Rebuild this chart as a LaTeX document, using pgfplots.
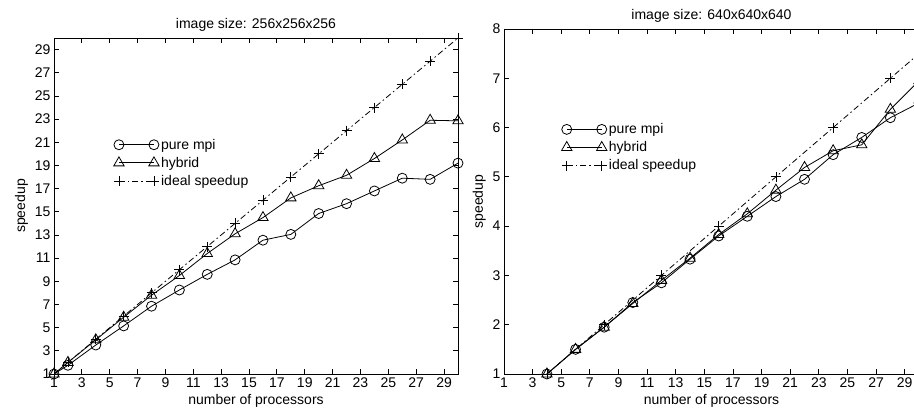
\documentclass[border=0pt]{standalone}
\usepackage{pgfplots}
\pgfplotsset{compat=1.18}
\usepackage{fontspec}
\setmainfont{Liberation Sans}

\pgfplotsset{
  gp/.style={
    scale only axis,
    anchor=south west,
    font=\fontsize{14bp}{16bp}\selectfont,
    /pgf/number format/assume math mode=true,
    xmin=1, xmax=30,
    xtick={1,3,...,29},
    tick align=inside,
    major tick length=5bp,
    axis line style={line width=0.8pt},
    every tick/.style={black, line width=0.8pt},
    xlabel={number of processors},
    ylabel={speedup},
    title style={yshift=-3bp},
    legend style={draw=none, fill=none, anchor=north west,
      font=\fontsize{14bp}{16bp}\selectfont, row sep=2.5bp,
      cells={anchor=west}},
    legend image code/.code={\draw[##1] plot coordinates {(0bp,0bp) (35bp,0bp)};},
    every axis plot/.append style={black, line width=0.8pt},
  },
  mpi/.style={mark=o, mark size=5bp},
  hyb/.style={mark=triangle, mark size=6bp},
  ideal/.style={mark=+, mark size=5bp, mark options={solid},
    dash pattern=on 6bp off 3bp on 1.5bp off 3bp},
}

\begin{document}
\begin{tikzpicture}
\path[clip, use as bounding box] (0,0) rectangle (914bp,418bp);

\begin{axis}[gp,
  at={(54bp,44bp)}, width=404bp, height=336bp,
  ymin=1, ymax=30, ytick={1,3,...,29},
  title={image size: 256x256x256},
  legend style={at={(0.14,0.712)}},
]
\addplot[mpi] coordinates {(1,1)(2,1.75)(4,3.5)(6,5.15)(8,6.85)(10,8.25)(12,9.6)(14,10.85)(16,12.55)(18,13.05)(20,14.85)(22,15.7)(24,16.8)(26,17.9)(28,17.8)(30,19.2)};
\addplot[hyb] coordinates {(1,1)(2,2.0)(4,3.95)(6,5.9)(8,7.8)(10,9.5)(12,11.4)(14,13.1)(16,14.5)(18,16.2)(20,17.25)(22,18.15)(24,19.6)(26,21.2)(28,22.9)(30,22.85)};
\addplot[ideal] coordinates {(1,1)(2,2)(4,4)(6,6)(8,8)(10,10)(12,12)(14,14)(16,16)(18,18)(20,20)(22,22)(24,24)(26,26)(28,28)(30,30)};
\legend{pure mpi, hybrid, ideal speedup}
\end{axis}

\begin{axis}[gp,
  at={(504bp,44bp)}, width=415bp, height=345bp,
  ymin=1, ymax=8, ytick={1,...,8},
  title={image size: 640x640x640},
  legend style={at={(0.131,0.738)}},
]
\addplot[mpi] coordinates {(4,1)(6,1.5)(8,1.95)(10,2.45)(12,2.85)(14,3.33)(16,3.8)(18,4.2)(20,4.6)(22,4.95)(24,5.45)(26,5.8)(28,6.2)(30,6.5)};
\addplot[hyb] coordinates {(4,1)(6,1.5)(8,1.95)(10,2.43)(12,2.9)(14,3.35)(16,3.83)(18,4.25)(20,4.73)(22,5.19)(24,5.53)(26,5.65)(28,6.37)(30,6.95)};
\addplot[ideal] coordinates {(4,1)(8,2)(12,3)(16,4)(20,5)(24,6)(28,7)(30,7.5)};
\legend{pure mpi, hybrid, ideal speedup}
\end{axis}
\end{tikzpicture}
\end{document}
